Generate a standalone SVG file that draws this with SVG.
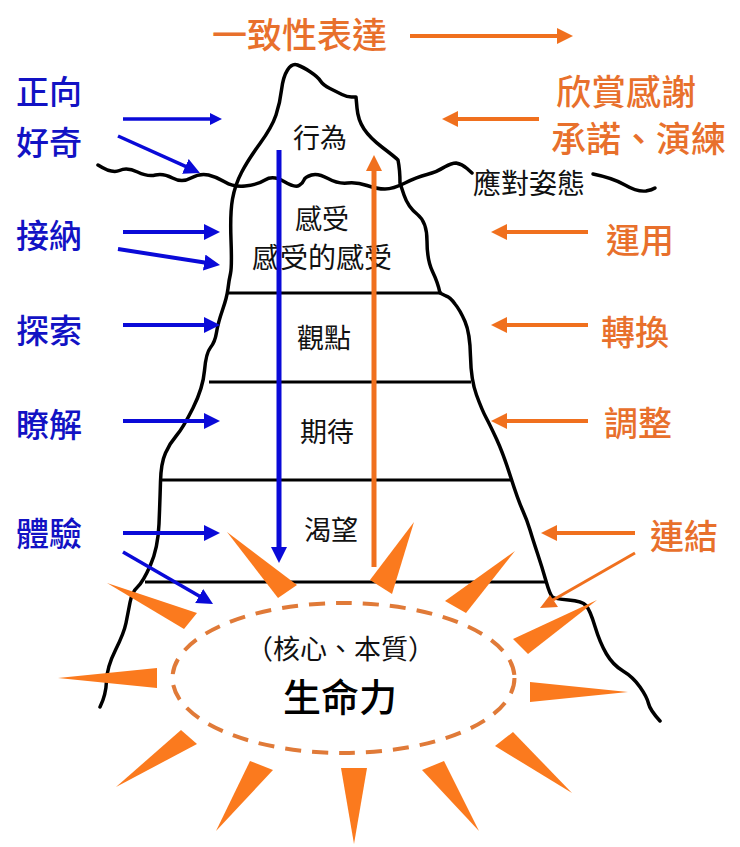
<svg xmlns="http://www.w3.org/2000/svg" width="740" height="847" viewBox="0 0 740 847">
<style>
text{font-family:"Noto Sans CJK TC","Noto Sans CJK SC",sans-serif}
.b{fill:#1212c4;font-size:33px;font-weight:500}
.o{fill:#e8702c;font-size:34px;font-weight:500}
.k{fill:#111;font-size:27px}
.ice{fill:none;stroke:#000;stroke-width:3.500;stroke-linejoin:round;stroke-linecap:round}
.h{fill:none;stroke:#000;stroke-width:3}
.ab{fill:none;stroke:#0a0ad8;stroke-width:4;marker-end:url(#mb)}
.abv{fill:none;stroke:#0a0ad8;stroke-width:5;marker-end:url(#mb)}
.abs{fill:none;stroke:#0a0ad8;stroke-width:3.500;marker-end:url(#mbs)}
.abt{fill:none;stroke:#0a0ad8;stroke-width:3.500;marker-end:url(#mb)}
.ao{fill:none;stroke:#f0701e;stroke-width:4;marker-end:url(#mo)}
.aov{fill:none;stroke:#f0701e;stroke-width:5;marker-end:url(#mo)}
.ray{fill:#fb7a1e}
</style>
<defs>
<marker id="mb" markerUnits="userSpaceOnUse" markerWidth="18" markerHeight="18" refX="2" refY="8" orient="auto"><path d="M0 0L16 8L0 16z" fill="#0a0ad8"/></marker>
<marker id="mbs" markerUnits="userSpaceOnUse" markerWidth="14" markerHeight="12" refX="2" refY="6" orient="auto"><path d="M0 0L12 6L0 12z" fill="#0a0ad8"/></marker>
<marker id="mo" markerUnits="userSpaceOnUse" markerWidth="18" markerHeight="18" refX="2" refY="8" orient="auto"><path d="M0 0L16 8L0 16z" fill="#f0701e"/></marker>
</defs>
<rect width="740" height="847" fill="#fff"/>
<g id="iceberg">
<path class="ice" d="M100 707Q106 695 106.500 681Q107 667 115.500 650Q124 633 126 623Q128 613 130 602.500Q132 592 137.500 587Q143 582 150.500 565Q158 548 159 524Q160 500 160.500 481.500Q161 463 165.500 453Q170 443 176.500 435.500Q183 428 193 408Q203 388 204.500 370.500Q206 353 210.500 347.500Q215 342 216.500 332.500Q218 323 222.500 310Q227 297 228 288.500Q229 280 230.500 273.500Q232 267 231 240Q230 213 232.500 199Q235 185 241.500 172.500Q248 160 260 143.500Q272 127 276 115Q280 103 281.500 90Q283 77 287.500 70Q292 63 297.500 65Q303 67 310.500 72Q318 77 320.500 81Q323 85 330 88.500Q337 92 342 94.500Q347 97 351.500 97L356 97L357 108Q358 120 364 129Q370 138 382.500 147.500Q395 157 398 160Q400 170 400 183Q400 183 404 195Q408 207 417.500 214.500Q427 222 427 241Q427 260 432.500 271.500Q438 283 440 293Q442 294 446 296Q450 297 455 304Q460 310 465 321.500Q470 333 470.500 356.500Q471 380 476.500 395Q482 410 486 417.500Q490 425 496.500 439Q503 453 510.500 476.500Q518 500 522.500 510Q527 520 530 530Q533 540 537.500 553.500Q542 567 546 581Q550 595 552.500 597Q555 599 568.500 600Q582 601 586 605.500Q590 610 595 626.500Q600 643 606.500 654Q613 665 623 671Q633 677 640 687Q647 697 648.500 703.500Q650 710 660 721"/>
<path class="ice" d="M98 165Q112 174 119.500 170.500Q127 167 137.500 172Q148 177 155.500 175Q163 173 172.500 178Q182 183 191 178Q200 173 208.500 175Q217 177 225 182Q233 187 245 186Q257 185 265 180Q273 175 284 181.500Q295 188 299 185.500Q303 183 304 180Q305 177 311.500 175Q318 173 328 178.500Q338 184 347.500 183Q357 182 367 185.500Q377 189 385 189Q393 189 405 183Q417 177 427 174.500Q437 172 444.500 167Q452 163 456 163Q462 164 467 168.500L472 173"/>
<path class="ice" d="M593 174Q613 178 625 185Q637 192 646 191Q652 190 655 188"/>
<path class="h" d="M228 293H442M209 382H471M160 480H511M145 582H547"/>
</g>
<g id="title"><text class="o" x="212" y="48" style="font-size:35px">一致性表達</text></g>
<g id="left-labels">
<text class="b" x="16" y="104">正向</text>
<text class="b" x="16" y="155">好奇</text>
<text class="b" x="16" y="248">接納</text>
<text class="b" x="16" y="343">探索</text>
<text class="b" x="16" y="437">瞭解</text>
<text class="b" x="16" y="546">體驗</text>
</g>
<g id="right-labels">
<text class="o" x="556" y="105" style="font-size:35px">欣賞感謝</text>
<text class="o" x="551" y="152" style="font-size:35px">承諾、演練</text>
<text class="o" x="606" y="253">運用</text>
<text class="o" x="601" y="345">轉換</text>
<text class="o" x="604" y="436">調整</text>
<text class="o" x="650" y="549">連結</text>
</g>
<g id="layers">
<text class="k" x="293" y="148">行為</text>
<text class="k" x="295" y="229">感受</text>
<text class="k" x="252" y="268" style="font-size:28px">感受的感受</text>
<text class="k" x="473" y="194" style="font-size:28px">應對姿態</text>
<text class="k" x="297" y="348">觀點</text>
<text class="k" x="300" y="442">期待</text>
<text class="k" x="304" y="540">渴望</text>
</g>
<g id="core">
<ellipse cx="343.500" cy="678" rx="171" ry="75" fill="none" stroke="#e07a38" stroke-width="4" stroke-dasharray="16 11"/>
<text class="k" x="246" y="659">（核心、本質）</text>
<text class="k" x="283" y="711" style="font-size:38px;font-weight:500;fill:#000">生命力</text>
</g>
<g id="connectors">
<path class="abv" d="M279 150V549"/>
<path class="aov" d="M374 567V169"/>
<path class="abs" d="M123 119H212"/>
<path class="abt" d="M118 136L187.200 167.200"/>
<path class="ab" d="M123 232H206"/>
<path class="ab" d="M118 249L206.200 262.800"/>
<path class="ab" d="M123 325H206"/>
<path class="ab" d="M123 421H206"/>
<path class="ab" d="M123 533H206"/>
<path class="abt" d="M123 552L200.900 597"/>
<path class="ao" d="M410 36H559"/>
<path class="ao" d="M539 119H456"/>
<path class="ao" d="M588 232H505"/>
<path class="ao" d="M588 325H505"/>
<path class="ao" d="M588 421H505"/>
<path class="ao" d="M635 533H555"/>
<path d="M635 553L553 600" fill="none" stroke="#f0701e" stroke-width="3"/>
<polygon points="550,595 540,608 558,607" fill="#f0701e"/>
</g>
<g id="rays">
<polygon class="ray" points="227,532 297,585 278,598"/>
<polygon class="ray" points="107,583 197,613 184,629"/>
<polygon class="ray" points="58,678 157,668 157,688"/>
<polygon class="ray" points="116,787 181,730 197,744"/>
<polygon class="ray" points="216,831 250,761 273,770"/>
<polygon class="ray" points="354,844 341,768 367,768"/>
<polygon class="ray" points="414,522 370,580 392,594"/>
<polygon class="ray" points="515,551 445,601 466,613"/>
<polygon class="ray" points="597,600 513,639 528,654"/>
<polygon class="ray" points="628,692 530,682 530,702"/>
<polygon class="ray" points="572,793 513,732 495,746"/>
<polygon class="ray" points="479,831 444,761 422,770"/>
</g>
</svg>
